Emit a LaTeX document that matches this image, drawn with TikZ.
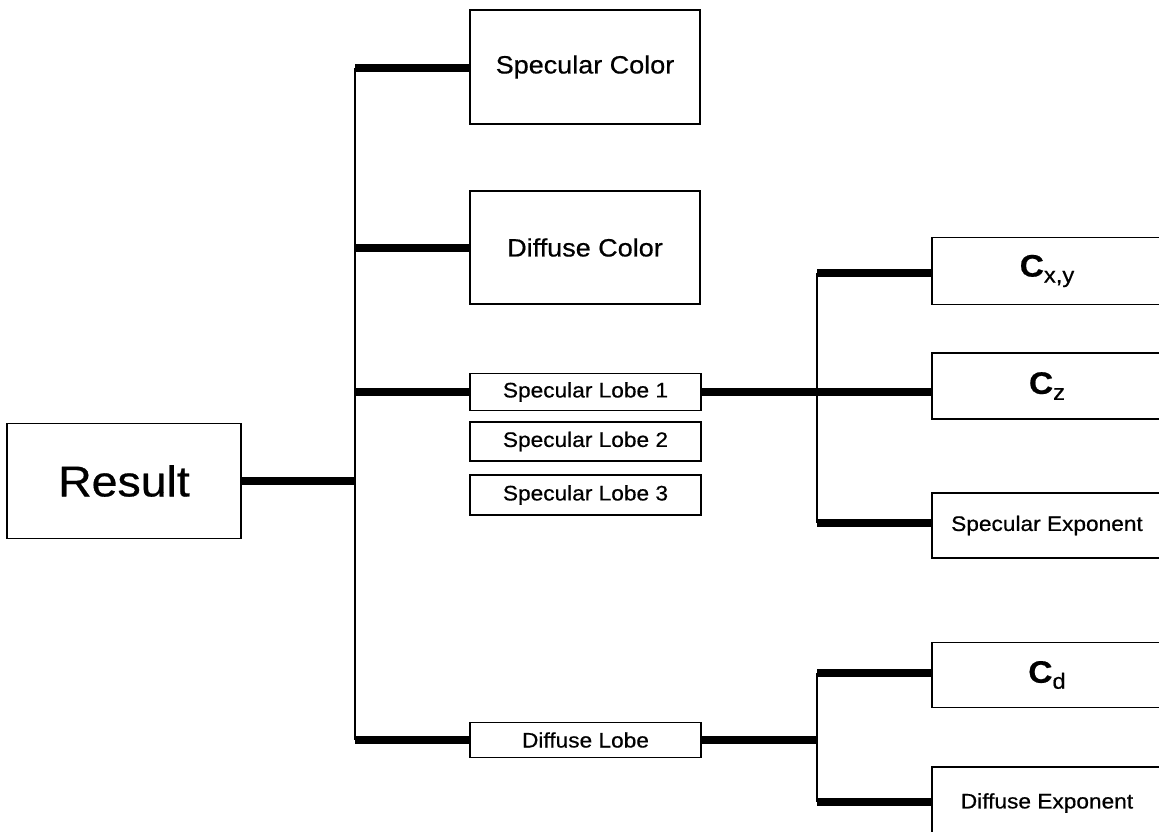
\documentclass[tikz,border=0pt]{standalone}
\usepackage{fontspec}
\setmainfont{Liberation Sans}[FakeStretch=1.08, FakeBold=0.6]
\newcommand{\fsz}[1]{\fontsize{#1}{1.2\dimexpr#1pt\relax}\selectfont}
\newcommand{\coef}[1]{{\fsz{31}\bfseries C}\raisebox{-6pt}{\fsz{22}#1}}
\begin{document}
\begin{tikzpicture}[x=1pt,y=-1pt,
  box/.style={draw, line width=1.6pt, inner sep=0pt, align=center},
  trunkline/.style={line width=2pt},
  branch/.style={line width=8pt}]
\useasboundingbox (0,0) rectangle (1159,832);

% left column
\node[box, minimum width=234pt, minimum height=115pt, font=\fsz{43}] (res) at (124,481) {Result};

% middle column
\node[box, minimum width=230pt, minimum height=114pt, font=\fsz{25}] (sc) at (585,67) {Specular Color};
\node[box, minimum width=230pt, minimum height=113pt, font=\fsz{25}] (dc) at (585,247.5) {Diffuse Color};
\node[box, minimum width=231pt, minimum height=37pt, font=\fsz{21}] (l1) at (585.5,392) {Specular Lobe 1};
\node[box, minimum width=231pt, minimum height=39pt, font=\fsz{21}] (l2) at (585.5,441.5) {Specular Lobe 2};
\node[box, minimum width=231pt, minimum height=40pt, font=\fsz{21}] (l3) at (585.5,495) {Specular Lobe 3};
\node[box, minimum width=231pt, minimum height=35pt, font=\fsz{21}] (dl) at (585.5,740) {Diffuse Lobe};

% right column (boxes run past the right edge)
\node[box, minimum width=230pt, minimum height=67pt] (cxy) at (1047,271) {\coef{x,y}};
\node[box, minimum width=230pt, minimum height=66pt] (cz) at (1047,386) {\coef{z}};
\node[box, minimum width=230pt, minimum height=65pt, font=\fsz{21}] (se) at (1047,525.5) {Specular Exponent};
\node[box, minimum width=230pt, minimum height=65pt] (cd) at (1047,675) {\coef{d}};
\node[box, minimum width=230pt, minimum height=72pt, font=\fsz{21}] (de) at (1047,803) {Diffuse Exponent};

% junction points of the trunks
\coordinate (tTop) at (355,68);
\coordinate (tBot) at (355,740);
\coordinate (sTop) at (817,273);
\coordinate (sBot) at (817,523);
\coordinate (dTop) at (817,673);
\coordinate (dBot) at (817,802);

% trunks
\draw[trunkline] (tTop) -- (tBot);
\draw[trunkline] (sTop) -- (sBot);
\draw[trunkline] (dTop) -- (dBot);

% branches
\draw[branch] (res.east) -- (res.east -| tTop);
\draw[branch] (tTop) -- (tTop -| sc.west);
\draw[branch] (dc.west -| tTop) -- (dc.west);
\draw[branch] (l1.west -| tTop) -- (l1.west);
\draw[branch] (tBot) -- (tBot -| dl.west);
\draw[branch] (l1.east) -- (l1.east -| cz.west);
\draw[branch] (sTop) -- (sTop -| cxy.west);
\draw[branch] (sBot) -- (sBot -| se.west);
\draw[branch] (dl.east) -- (dl.east -| dTop);
\draw[branch] (dTop) -- (dTop -| cd.west);
\draw[branch] (dBot) -- (dBot -| de.west);
\end{tikzpicture}
\end{document}
